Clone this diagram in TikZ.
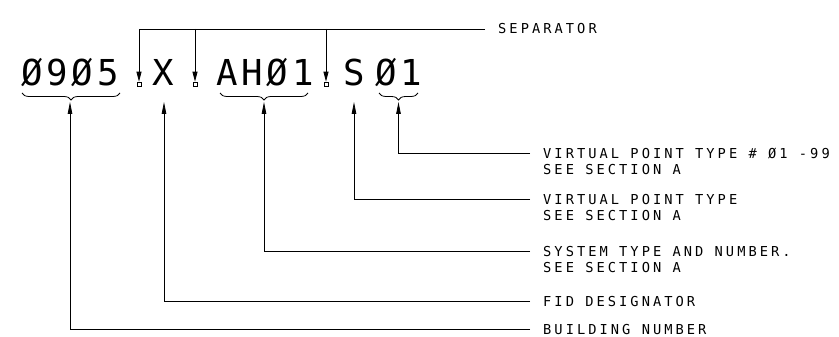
\documentclass[tikz,border=0pt]{standalone}
\usepackage{fontspec}
\newfontfamily\cadfont[LetterSpace=22.2]{DejaVu Sans Mono}
\newfontfamily\bigcadfont[LetterSpace=11]{DejaVu Sans Mono}
\usetikzlibrary{arrows.meta,decorations.pathreplacing}
\begin{document}
\begin{tikzpicture}[x=1pt,y=-1pt,
  lbl/.style={font=\cadfont\fontsize{13.7}{16}\selectfont, inner xsep=13pt, inner ysep=0pt, text height=10pt, text depth=0pt, anchor=west},
  big/.style={font=\bigcadfont\fontsize{35.7}{40}\selectfont, inner sep=0pt, anchor=base},
  conn/.style={line width=0.8pt},
  uparrow/.style={conn, -{Triangle[length=12pt,width=4.5pt]}},
  sepmark/.style={draw, line width=0.7pt, minimum size=4pt, inner sep=0pt},
  separrow/.style={conn, -{Triangle[length=10pt,width=5pt]}},
  curly/.style={conn, decorate, decoration={brace, amplitude=7pt}}
]
\useasboundingbox (0,0) rectangle (839,337);

% main code
\node[big] (bnum) at (70,85) {Ø9Ø5};
\node[big] (fid) at (163.5,85) {X};
\node[big] (sys) at (265,85) {AHØ1};
\node[big] (vpt) at (354,85) {S};
\node[big] (vpn) at (398.5,85) {Ø1};

% separators
\node[sepmark] (m1) at (139,84) {};
\node[sepmark] (m2) at (195,84) {};
\node[sepmark] (m3) at (326,84) {};
\coordinate (t2) at (195,29);
\coordinate (t3) at (326,29);
\node[lbl] (sep) at (485,29) {SEPARATOR};
\draw[separrow] (sep.west) -| (m1.north);
\draw[separrow] (t2) -- (m2.north);
\draw[separrow] (t3) -- (m3.north);

% braces
\coordinate (b1r) at (120,93); \coordinate (b1l) at (22,93);
\coordinate (b3r) at (308,93); \coordinate (b3l) at (220,93);
\coordinate (b5r) at (418,93); \coordinate (b5l) at (379,93);
\draw[curly] (b1r) -- (b1l);
\draw[curly] (b3r) -- (b3l);
\draw[curly] (b5r) -- (b5l);

% arrow tips
\coordinate (a1) at (70,102);
\coordinate (a2) at (164,102);
\coordinate (a3) at (264,102);
\coordinate (a4) at (354,102);
\coordinate (a5) at (398.5,102);

% labels
\node[lbl] (L5a) at (530,153) {VIRTUAL POINT TYPE \# Ø1 -99};
\node[lbl, anchor=north west] (L5b) at ([yshift=-6pt]L5a.south west) {SEE SECTION A};
\node[lbl] (L4a) at (530,199) {VIRTUAL POINT TYPE};
\node[lbl, anchor=north west] (L4b) at ([yshift=-6pt]L4a.south west) {SEE SECTION A};
\node[lbl] (L3a) at (530,251) {SYSTEM TYPE AND NUMBER.};
\node[lbl, anchor=north west] (L3b) at ([yshift=-6pt]L3a.south west) {SEE SECTION A};
\node[lbl] (L2) at (530,301) {FID DESIGNATOR};
\node[lbl] (L1) at (530,329.5) {BUILDING NUMBER};

\draw[uparrow] (L5a.west) -| (a5);
\draw[uparrow] (L4a.west) -| (a4);
\draw[uparrow] (L3a.west) -| (a3);
\draw[uparrow] (L2.west) -| (a2);
\draw[uparrow] (L1.west) -| (a1);
\end{tikzpicture}
\end{document}
